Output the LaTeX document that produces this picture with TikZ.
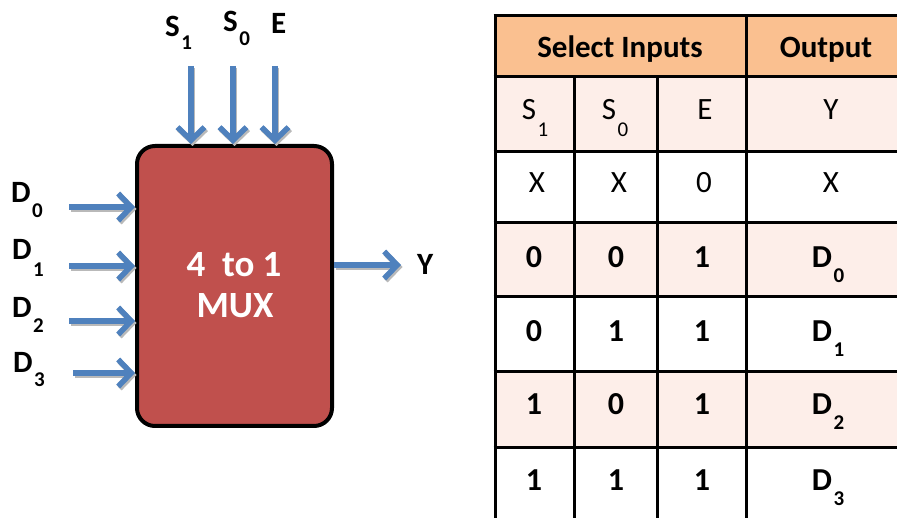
\documentclass[tikz,border=0pt]{standalone}
\usepackage{fontspec}
\setmainfont{Carlito}
\usetikzlibrary{arrows.meta}
\definecolor{muxred}{HTML}{C0504D}
\definecolor{sigblue}{HTML}{4F81BD}
\definecolor{hdrorange}{HTML}{FAC090}
\definecolor{rowpink}{HTML}{FDEEE9}
% lowered subscript: optional drop, then the index
\newcommand\lowsub[2][15pt]{\kern1.5pt\lower#1\hbox{\fontsize{21}{21}\selectfont #2}}
% signal arrow with a soft grey drop shadow
\newcommand\sigarrow[2]{%
  \draw[sigshadow] (#1) -- (#2);
  \draw[sig] (#1) -- (#2);}

\begin{document}
\begin{tikzpicture}[x=1pt,y=-1pt,
  lbl/.style={font=\fontsize{31}{31}\selectfont\bfseries, anchor=base west, inner sep=0},
  sig/.style={draw=sigblue, line width=5.5pt, -{Straight Barb[length=13pt,width=27pt]}},
  sigshadow/.style={sig, draw=gray!55, transform canvas={shift={(1.5pt,-2pt)}}},
  muxtext/.style={font=\fontsize{37}{37}\selectfont\bfseries, text=white, anchor=base, inner sep=0},
  hdr/.style={font=\fontsize{31}{31}\selectfont\bfseries, anchor=base, inner sep=0},
  cell/.style={font=\fontsize{31}{31}\selectfont, anchor=base, inner sep=0},
  bcell/.style={font=\fontsize{32}{32}\selectfont\bfseries, anchor=base, inner sep=0},
  gridline/.style={line width=3pt, black}
]
\useasboundingbox (0,0) rectangle (897,518);

% ---------------- multiplexer block ----------------
\node[draw=black, line width=4pt, fill=muxred, rounded corners=18pt,
      minimum width=195pt, minimum height=280pt, inner sep=0] (mux) at (234.5,286) {};
\node[muxtext] (muxl1) at (234,277) {4\ \ to 1};
\node[muxtext] (muxl2) at (235,318) {MUX};

% signal end points
\coordinate (s1in) at (191,66);
\coordinate (s0in) at (233,66);
\coordinate (enin) at (275,66);
\coordinate (d0in) at (69,207);
\coordinate (d1in) at (69,266);
\coordinate (d2in) at (69,321);
\coordinate (d3in) at (73,373);
\coordinate (yout) at (401,265);

% inputs and output
\sigarrow{s1in}{s1in |- mux.north}
\sigarrow{s0in}{s0in |- mux.north}
\sigarrow{enin}{enin |- mux.north}
\sigarrow{d0in}{d0in -| mux.west}
\sigarrow{d1in}{d1in -| mux.west}
\sigarrow{d2in}{d2in -| mux.west}
\sigarrow{d3in}{d3in -| mux.west}
\sigarrow{mux.east |- yout}{yout}

% labels
\node[lbl] (s1lbl) at (165,37) {S\lowsub[13pt]{1}};
\node[lbl] (s0lbl) at (223,32) {S\lowsub[14pt]{0}};
\node[lbl] (enlbl) at (271,34) {E};
\node[lbl] (d0lbl) at (11,203) {D\lowsub{0}};
\node[lbl] (d1lbl) at (12,260) {D\lowsub[17pt]{1}};
\node[lbl] (d2lbl) at (12,318) {D\lowsub{2}};
\node[lbl] (d3lbl) at (13,373) {D\lowsub[14pt]{3}};
\node[lbl] (ylbl) at (417,275) {Y};

% ---------------- truth table ----------------
\fill[hdrorange] (495,16) rectangle (910,77);
\fill[rowpink] (495,77) rectangle (910,152);
\fill[rowpink] (495,223) rectangle (910,297);
\fill[rowpink] (495,372) rectangle (910,447);

\foreach \yy in {16,77,152,223,297,372,447}
  \draw[gridline] (493.5,\yy) -- (910,\yy);
\draw[gridline] (495,14.5) -- (495,530);
\draw[gridline] (746,16) -- (746,530);
\draw[gridline] (574,77) -- (574,530);
\draw[gridline] (657,77) -- (657,530);

\node[hdr] (hsel) at (620,58) {Select Inputs};
\node[hdr] (hout) at (826,58) {Output};

\node[cell] (c11) at (535,120) {S\lowsub[17pt]{1}};
\node[cell] (c12) at (615,120) {S\lowsub[17pt]{0}};
\node[cell] (c13) at (705,120) {E};
\node[cell] (c14) at (831,120) {Y};

\node[cell] (c21) at (537,193) {X};
\node[cell] (c22) at (619,193) {X};
\node[cell] (c23) at (704,193) {0};
\node[cell] (c24) at (831,193) {X};

\node[bcell] (c31) at (534,268) {0};
\node[bcell] (c32) at (616,268) {0};
\node[bcell] (c33) at (702,268) {1};
\node[bcell] (c34) at (828,268) {D\lowsub{0}};

\node[bcell] (c41) at (534,342) {0};
\node[bcell] (c42) at (616,342) {1};
\node[bcell] (c43) at (702,342) {1};
\node[bcell] (c44) at (828,342) {D\lowsub{1}};

\node[bcell] (c51) at (534,415) {1};
\node[bcell] (c52) at (616,415) {0};
\node[bcell] (c53) at (702,415) {1};
\node[bcell] (c54) at (828,415) {D\lowsub{2}};

\node[bcell] (c61) at (534,490) {1};
\node[bcell] (c62) at (616,490) {1};
\node[bcell] (c63) at (702,490) {1};
\node[bcell] (c64) at (828,490) {D\lowsub{3}};
\end{tikzpicture}
\end{document}
